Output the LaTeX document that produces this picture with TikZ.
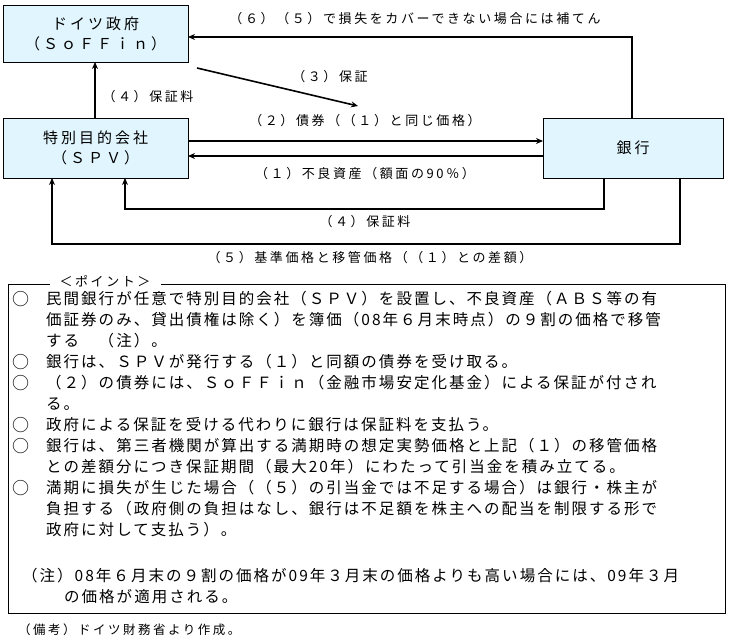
\documentclass[tikz,border=0pt]{standalone}
\usepackage{fontspec}
\setmainfont{Noto Sans CJK JP}
\newfontfamily\jp[LetterSpace=20]{Noto Sans CJK JP}
\newfontfamily\jpt[LetterSpace=13]{Noto Sans CJK JP}
\usetikzlibrary{arrows.meta}
\begin{document}
\begin{tikzpicture}[x=1pt,y=-1pt,
  box/.style={draw=black,fill=cyan!12,line width=0.6pt},
  arr/.style={line width=1.6pt,-{Stealth[length=7pt,width=6pt]}},
  lab/.style={font=\jp\fontsize{13}{14}\selectfont,inner sep=0pt},
  bt/.style={font=\jp\fontsize{15}{20}\selectfont,align=center},
  tx/.style={font=\jpt\fontsize{15.5}{21}\selectfont,anchor=west,inner sep=0pt},
  ci/.style={font=\fontsize{17}{21}\selectfont,anchor=west,inner sep=0pt}]
\useasboundingbox (0,0) rectangle (735,644);
\draw[box] (3,5) rectangle (188,62);
\draw[box] (3,118) rectangle (188,178);
\draw[box] (543,118) rectangle (723,178);
\node[bt] (gov) at (95.5,33.5) {ドイツ政府\\（ＳｏＦＦｉｎ）};
\node[bt] (spv) at (95.5,148) {特別目的会社\\（ＳＰＶ）};
\node[bt] (bank) at (633,148) {銀行};
\coordinate (a1) at (632,118); \coordinate (a2) at (632,37); \coordinate (a3) at (188,37);
\draw[arr] (a1)--(a2)--(a3);
\coordinate (b1) at (197,68); \coordinate (b2) at (358,106);
\draw[arr] (b1)--(b2);
\coordinate (c1) at (95,118); \coordinate (c2) at (95,62);
\draw[arr] (c1)--(c2);
\coordinate (d1) at (188,141); \coordinate (d2) at (543,141);
\draw[arr] (d1)--(d2);
\coordinate (e1) at (543,156); \coordinate (e2) at (188,156);
\draw[arr] (e1)--(e2);
\coordinate (f1) at (604,178); \coordinate (f2) at (604,209); \coordinate (f3) at (125,209); \coordinate (f4) at (125,178);
\draw[arr] (f1)--(f2)--(f3)--(f4);
\coordinate (g1) at (680,178); \coordinate (g2) at (680,244); \coordinate (g3) at (52,244); \coordinate (g4) at (52,178);
\draw[arr] (g1)--(g2)--(g3)--(g4);
\node[lab] (l6) at (415,19) {（６）（５）で損失をカバーできない場合には補てん};
\node[lab] (l3) at (330,77) {（３）保証};
\node[lab] (l4a) at (148,97) {（４）保証料};
\node[lab] (l2) at (365,121) {（２）債券（（１）と同じ価格）};
\node[lab] (l1) at (365,174) {（１）不良資産（額面の90％）};
\node[lab] (l4b) at (365,222) {（４）保証料};
\node[lab] (l5) at (370,258) {（５）基準価格と移管価格（（１）との差額）};
\draw[line width=0.6pt] (8,284) rectangle (725,613);
\node[lab,fill=white,inner xsep=10pt,inner ysep=2pt] (pt) at (105,281) {＜ポイント＞};
\foreach \y/\b/\t in {
 299/○/民間銀行が任意で特別目的会社（ＳＰＶ）を設置し、不良資産（ＡＢＳ等の有,
 320//価証券のみ、貸出債権は除く）を簿価（08年６月末時点）の９割の価格で移管,
 341//する　（注）。,
 362/○/銀行は、ＳＰＶが発行する（１）と同額の債券を受け取る。,
 383/○/（２）の債券には、ＳｏＦＦｉｎ（金融市場安定化基金）による保証が付され,
 404//る。,
 425/○/政府による保証を受ける代わりに銀行は保証料を支払う。,
 446/○/銀行は、第三者機関が算出する満期時の想定実勢価格と上記（１）の移管価格,
 467//との差額分につき保証期間（最大20年）にわたって引当金を積み立てる。,
 488/○/満期に損失が生じた場合（（５）の引当金では不足する場合）は銀行・株主が,
 509//負担する（政府側の負担はなし、銀行は不足額を株主への配当を制限する形で,
 530//政府に対して支払う）。}
 { \node[ci] at (12,\y) {\b}; \node[tx] at (46,\y) {\t}; }
\node[tx] (n1) at (22,576) {（注）08年６月末の９割の価格が09年３月末の価格よりも高い場合には、09年３月};
\node[tx] (n2) at (64,597) {の価格が適用される。};
\node[font=\jp\fontsize{12.5}{14}\selectfont,anchor=west,inner sep=0pt] (src) at (18,630) {（備考）ドイツ財務省より作成。};
\end{tikzpicture}
\end{document}
